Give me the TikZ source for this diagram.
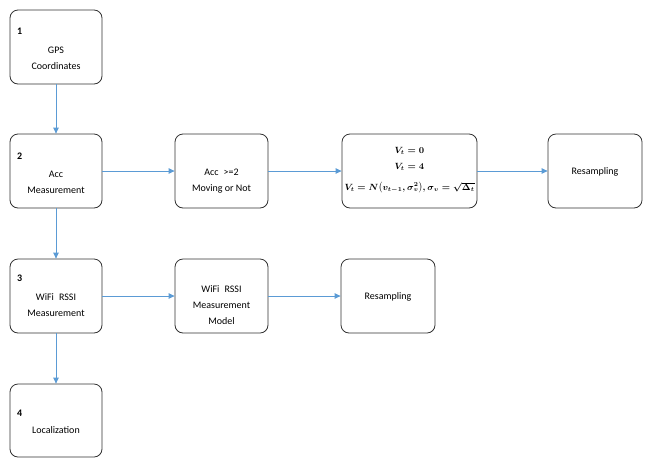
\documentclass[tikz,border=0pt]{standalone}
\usepackage{amsmath}
\usepackage{fontspec}
\setmainfont{Carlito}
\usetikzlibrary{arrows.meta}
\definecolor{arrowblue}{RGB}{91,155,213}
\definecolor{boxline}{RGB}{50,50,50}
\newcommand{\formulaA}{$V_t = 0$}
\newcommand{\formulaB}{$V_t = 4$}
\newcommand{\formulaC}{$V_t = N\bigl(v_{t-1},\sigma_v^2\bigr),\sigma_v = \sqrt{\Delta_t}$}
\begin{document}
\begin{tikzpicture}[x=1pt,y=-1pt,
  box/.style={draw=boxline,line width=0.8pt,rounded corners=8pt,fill=white,inner sep=0pt},
  txt/.style={align=center,font=\fontsize{10}{16}\selectfont,inner sep=0pt},
  mathtxt/.style={align=center,font=\fontsize{9}{16}\selectfont\boldmath,inner sep=0pt},
  num/.style={font=\fontsize{10}{12}\selectfont\bfseries,inner sep=0pt,anchor=west},
  conn/.style={draw=arrowblue,line width=0.9pt,-{Triangle[length=6pt,width=5.5pt]}}]
\useasboundingbox (0,0) rectangle (660,461);
% left column
\node[box,minimum width=92pt,minimum height=74pt] (b1) at (56,47) {};
\node[num] (b1n) at (17,31) {1};
\node[txt] (b1t) at (56,58) {GPS\\Coordinates};
\node[box,minimum width=92pt,minimum height=74pt] (b2) at (56,171) {};
\node[num] (b2n) at (17,156) {2};
\node[txt] (b2t) at (56,182) {Acc\\Measurement};
\node[box,minimum width=92pt,minimum height=74pt] (b3) at (56,296) {};
\node[num] (b3n) at (17,278) {3};
\node[txt] (b3t) at (56,305) {WiFi\enspace RSSI\\Measurement};
\node[box,minimum width=92pt,minimum height=73pt] (b4) at (56,420.5) {};
\node[num] (b4n) at (17,413) {4};
\node[txt] (b4t) at (56,430) {Localization};
% row 2
\node[box,minimum width=93pt,minimum height=74pt] (acc) at (221.5,171) {};
\node[txt] (acct) at (221.5,181) {Acc\enspace{>}=2\\Moving or Not};
\node[box,minimum width=135pt,minimum height=74pt] (v) at (409.5,171) {};
\node[mathtxt] (vt) at (409.5,170.5) {\formulaA\\\formulaB\\[4.5pt]\formulaC};
\node[box,minimum width=94pt,minimum height=74pt] (r1) at (595,171) {};
\node[txt] (r1t) at (595,172) {Resampling};
% row 3
\node[box,minimum width=93pt,minimum height=74pt] (wm) at (221.5,296) {};
\node[txt] (wmt) at (221.5,305) {WiFi\enspace RSSI\\Measurement\\Model};
\node[box,minimum width=94pt,minimum height=74pt] (r2) at (388,296) {};
\node[txt] (r2t) at (388,297) {Resampling};
% connectors
\draw[conn] (b1) -- (b2);
\draw[conn] (b2) -- (b3);
\draw[conn] (b3) -- (b4);
\draw[conn] (b2) -- (acc);
\draw[conn] (acc) -- (v);
\draw[conn] (v) -- (r1);
\draw[conn] (b3) -- (wm);
\draw[conn] (wm) -- (r2);
\end{tikzpicture}
\end{document}
